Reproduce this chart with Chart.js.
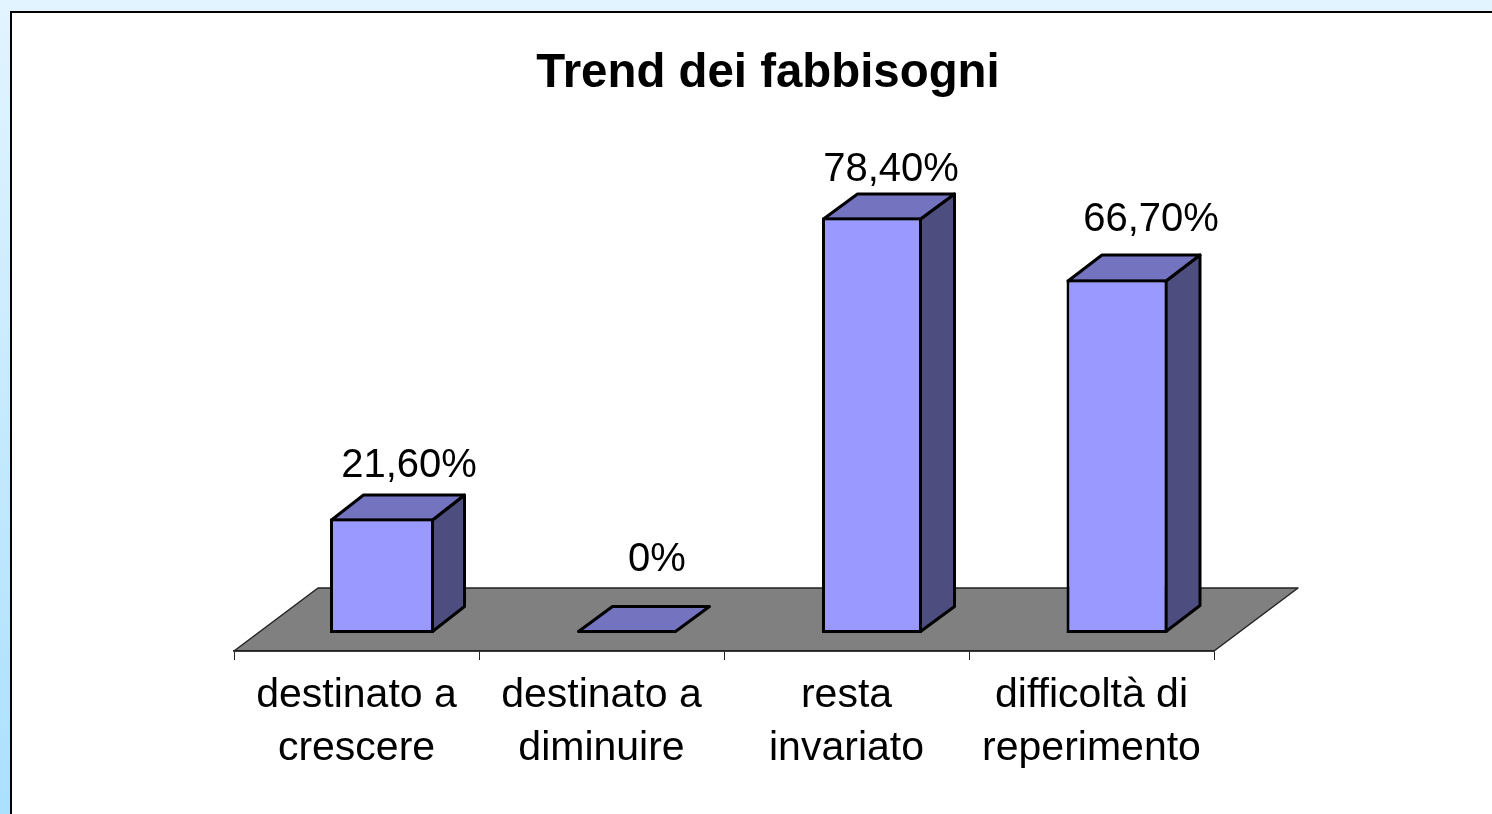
<!DOCTYPE html>
<html lang="it">
<head>
<meta charset="utf-8">
<title>Trend dei fabbisogni</title>
<style>
html,body{margin:0;padding:0;width:1492px;height:814px;overflow:hidden}
body{position:relative;background:linear-gradient(to bottom,#E2F4FF 0%,#ABE0FF 100%)}
#panel{position:absolute;left:10px;top:11px;right:0;bottom:0;background:#fff;border-left:2px solid #000;border-top:2px solid #000}
#chart{position:absolute;left:230px;top:0}
</style>
<script src="https://cdn.jsdelivr.net/npm/chart.js@4"></script>
</head>
<body>
<div id="panel"></div>
<canvas id="chart" width="1076" height="814"></canvas>
<script>
const chartTitle = "Trend dei fabbisogni";
const categories = [["destinato a","crescere"],["destinato a","diminuire"],["resta","invariato"],["difficoltà di","reperimento"]];
const values = [21.6, 0, 78.4, 66.7];

// layout of the pseudo-3D drawing (pixels)
const barShiftX = 25.5;
const barWidths = [104, 100, 100, 101];
const barDepthX = [32, 34, 34, 34];
const barDepthY = [-25, -25, -25, -26];
const floorDepth = {x: 84, y: -63};
const labelNudge = [[27,-52.5],[30,-73],[19,-47.5],[34,-59.5]];
const stroke = 3;

const formatValue = v => v === 0 ? "0%" : v.toFixed(2).replace(".", ",") + "%";

function poly(ctx, pts, fill, strokeColor, lw){
  ctx.beginPath();
  pts.forEach((p,i)=> i ? ctx.lineTo(p[0],p[1]) : ctx.moveTo(p[0],p[1]));
  ctx.closePath();
  ctx.fillStyle = fill; ctx.fill();
  ctx.lineWidth = lw; ctx.strokeStyle = strokeColor; ctx.lineJoin = "round"; ctx.stroke();
}

const depthPlugin = {
  id: "depth",
  afterDatasetsUpdate(chart){
    chart.getDatasetMeta(0).data.forEach((el,i)=>{ el.width = barWidths[i]; });
  },
  beforeDraw(chart){
    const {ctx, chartArea:a} = chart;
    ctx.save();
    poly(ctx, [[a.left,a.bottom],[a.left+floorDepth.x,a.bottom+floorDepth.y],
               [a.right+floorDepth.x,a.bottom+floorDepth.y],[a.right,a.bottom]], "#808080", "#222", 1.5);
    ctx.restore();
  },
  beforeDatasetsDraw(chart){
    const ctx = chart.ctx, h = stroke/2;
    ctx.save();
    ctx.translate(barShiftX,0);
    chart.getDatasetMeta(0).data.forEach((el,i)=>{
      const l = el.x-el.width/2+h, r = el.x+el.width/2-h;
      const flat = el.base-el.y <= 1;
      const top = flat ? el.base-h : el.y+h, bot = el.base-h;
      const dx = barDepthX[i], dy = barDepthY[i];
      if(!flat){
        poly(ctx, [[r,top],[r+dx,top+dy],[r+dx,bot+dy],[r,bot]], "#4D4D80", "#000", stroke);
      }
      poly(ctx, [[l,top],[l+dx,top+dy],[r+dx,top+dy],[r,top]], "#7373BF", "#000", stroke);
    });
    ctx.restore();
  },
  beforeDatasetDraw(chart){
    chart.ctx.save();
    chart.ctx.translate(barShiftX,0);
  },
  afterDatasetDraw(chart){
    chart.ctx.restore();
  },
  afterDatasetsDraw(chart){
    const ctx = chart.ctx;
    ctx.save();
    ctx.font = '40px "Liberation Sans", Arial, sans-serif';
    ctx.fillStyle = "#000"; ctx.textAlign = "center"; ctx.textBaseline = "middle";
    chart.getDatasetMeta(0).data.forEach((el,i)=>{
      ctx.fillText(formatValue(values[i]), el.x+barShiftX+labelNudge[i][0], el.y+labelNudge[i][1]);
    });
    ctx.restore();
  }
};

new Chart(document.getElementById("chart"), {
  type: "bar",
  data: {
    labels: categories,
    datasets: [{
      data: values,
      backgroundColor: "#9999FF",
      borderColor: "#000",
      borderWidth: stroke,
      borderSkipped: false,
      barPercentage: 0.41,
      categoryPercentage: 1,
      clip: false
    }]
  },
  options: {
    responsive: false,
    devicePixelRatio: 1,
    animation: false,
    events: [],
    layout: {padding: {left: 4, right: 4, top: 0, bottom: 0}},
    plugins: {
      legend: {display: false},
      tooltip: {enabled: false},
      title: {
        display: true,
        text: chartTitle,
        color: "#000",
        font: {family: '"Liberation Sans", Arial, sans-serif', size: 47.4, weight: "bold", lineHeight: 1.2},
        padding: {top: 45, bottom: 0}
      }
    },
    scales: {
      x: {
        grid: {offset: true, drawOnChartArea: false, drawTicks: true, tickLength: 9, color: "#222", lineWidth: 1},
        border: {display: true, color: "#222", width: 1.5},
        ticks: {
          color: "#000", padding: 9, maxRotation: 0, minRotation: 0, autoSkip: false,
          font: {family: '"Liberation Sans", Arial, sans-serif', size: 41, lineHeight: 1.293}
        },
        afterFit: s => { s.height = 163; }
      },
      y: {
        position: "right",
        min: -3.396,
        max: 100.2,
        grid: {display: false},
        border: {display: false},
        ticks: {display: false},
        afterFit: s => { s.width = 88; }
      }
    }
  },
  plugins: [depthPlugin]
});
</script>
</body>
</html>
